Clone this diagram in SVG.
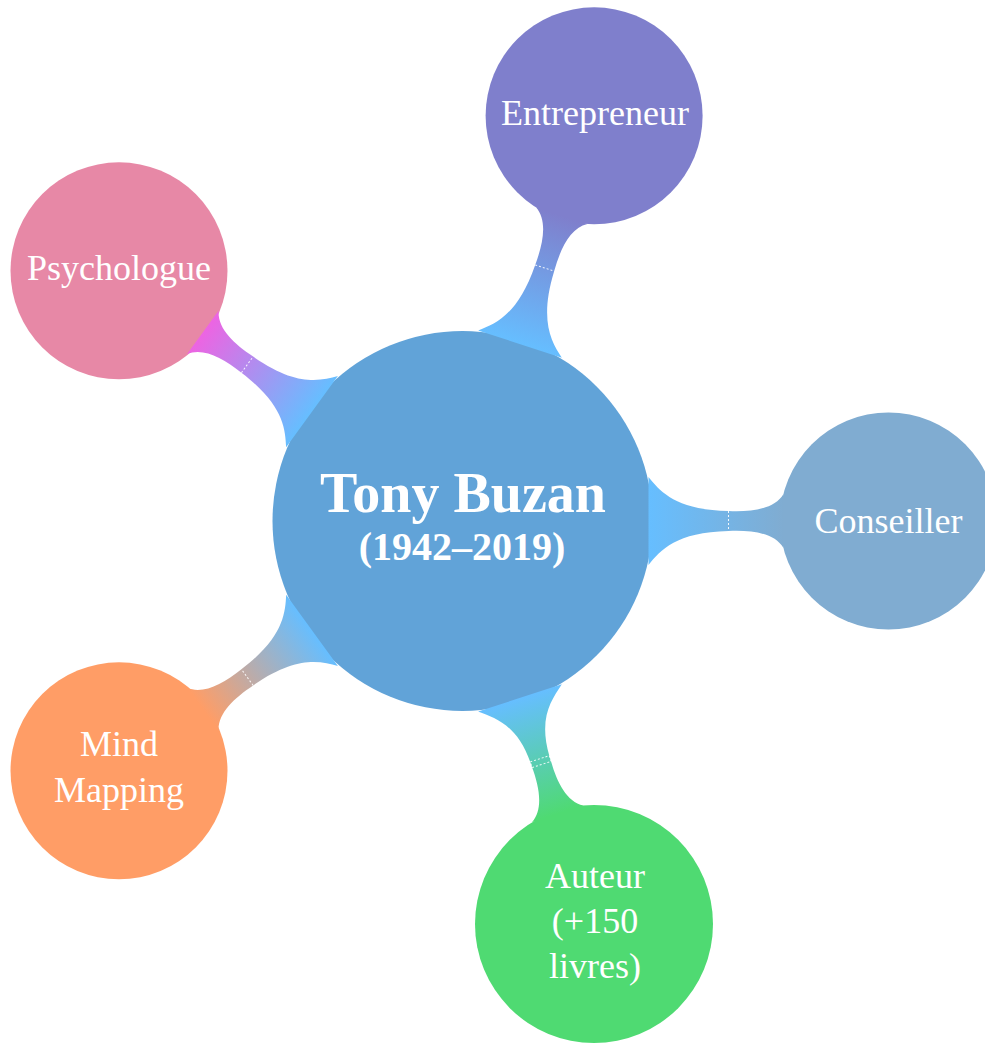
<svg xmlns="http://www.w3.org/2000/svg" width="985" height="1043" viewBox="0 0 985 1043">
  <style>
    .label { font-family: "Liberation Serif", "Times New Roman", serif; fill: #ffffff; text-anchor: middle; }
    .child { font-size: 36px; }
    .root-title { font-size: 56px; font-weight: bold; }
    .root-sub { font-size: 40px; font-weight: bold; }
    .seam { fill: none; stroke: #ffffff; stroke-width: 1; stroke-dasharray: 2 2; stroke-opacity: 0.9; }
  </style>
  <defs>
    <!-- branch fills run from the trunk colour to each topic colour, in branch-local coordinates -->
    <linearGradient id="g-entrepreneur" gradientUnits="userSpaceOnUse" x1="186" y1="0" x2="321" y2="0">
      <stop offset="0" stop-color="#66beff"/>
      <stop offset="1" stop-color="#7f7fcc"/>
    </linearGradient>
    <linearGradient id="g-psychologue" gradientUnits="userSpaceOnUse" x1="186" y1="0" x2="321" y2="0">
      <stop offset="0" stop-color="#66beff"/>
      <stop offset="1" stop-color="#ed64e2"/>
    </linearGradient>
    <linearGradient id="g-conseiller" gradientUnits="userSpaceOnUse" x1="186" y1="0" x2="321" y2="0">
      <stop offset="0" stop-color="#66beff"/>
      <stop offset="1" stop-color="#80acd1"/>
    </linearGradient>
    <linearGradient id="g-mindmap" gradientUnits="userSpaceOnUse" x1="186" y1="0" x2="321" y2="0">
      <stop offset="0" stop-color="#66beff"/>
      <stop offset="1" stop-color="#ff9d66"/>
    </linearGradient>
    <linearGradient id="g-auteur" gradientUnits="userSpaceOnUse" x1="186" y1="0" x2="308" y2="0">
      <stop offset="0" stop-color="#66beff"/>
      <stop offset="1" stop-color="#4fda72"/>
    </linearGradient>
    <!-- standard branch shape: trunk chord at u=186, waist at u=266, topic chord at u=321 -->
    <path id="branch" d="M186,-44 C198,-29 214,-11 266,-10 C290,-9 312,-12 321,-27 L321,27 C312,12 290,9 266,10 C214,11 198,29 186,44 Z"/>
  </defs>

  <g id="node-root">
    <circle cx="462.5" cy="521" r="190" fill="#61a3d8"/>
    <text class="label root-title" x="463" y="512">Tony Buzan</text>
    <text class="label root-sub" x="462" y="560">(1942–2019)</text>
  </g>

  <g id="node-entrepreneur">
    <circle cx="594.1" cy="115.8" r="108.5" fill="#7f7fcc"/>
    <text class="label child" x="595" y="125">Entrepreneur</text>
  </g>

  <g id="node-psychologue">
    <circle cx="119" cy="270.8" r="108.5" fill="#e788a6"/>
    <text class="label child" x="119" y="279.5">Psychologue</text>
  </g>

  <g id="node-conseiller">
    <circle cx="888.5" cy="521" r="108.5" fill="#80acd1"/>
    <text class="label child" x="888.5" y="532.5">Conseiller</text>
  </g>

  <g id="node-mindmapping">
    <circle cx="119" cy="770.8" r="108.5" fill="#ff9d66"/>
    <text class="label child" x="119" y="756">Mind</text>
    <text class="label child" x="119" y="801.5">Mapping</text>
  </g>

  <g id="node-auteur">
    <circle cx="594" cy="924" r="119" fill="#4fda72"/>
    <text class="label child" x="595" y="888">Auteur</text>
    <text class="label child" x="595" y="933">(+150</text>
    <text class="label child" x="595" y="978">livres)</text>
  </g>

  <g id="connectors">
    <g transform="translate(462.5,521) rotate(-72)">
      <use href="#branch" fill="url(#g-entrepreneur)"/>
      <line class="seam" x1="266" y1="-10" x2="266" y2="10"/>
    </g>
    <g transform="translate(462.5,521) rotate(-144)">
      <use href="#branch" fill="url(#g-psychologue)"/>
      <line class="seam" x1="266" y1="-10" x2="266" y2="10"/>
    </g>
    <g transform="translate(462.5,521)">
      <use href="#branch" fill="url(#g-conseiller)"/>
      <line class="seam" x1="266" y1="-10" x2="266" y2="10"/>
    </g>
    <g transform="translate(462.5,521) rotate(144)">
      <use href="#branch" fill="url(#g-mindmap)"/>
      <line class="seam" x1="266" y1="-10" x2="266" y2="10"/>
    </g>
    <g transform="translate(462.5,521) rotate(72)">
      <path fill="url(#g-auteur)" d="M186,-44 C198,-29 211,-11 251,-10 L255,-10 C277,-9 299,-12 308,-27 L308,27 C299,12 277,9 255,10 L251,10 C211,11 198,29 186,44 Z"/>
      <rect class="seam" x="250" y="-10" width="6" height="20"/>
    </g>
  </g>
</svg>
